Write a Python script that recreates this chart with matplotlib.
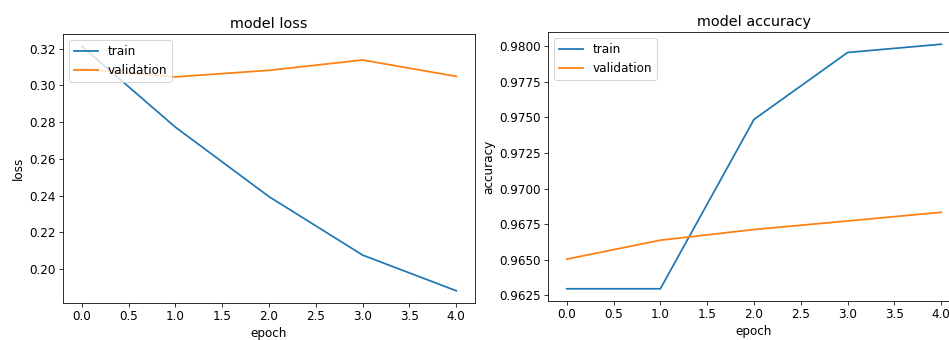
import matplotlib
matplotlib.use('Agg')
import matplotlib.pyplot as plt

epochs = [0, 1, 2, 3, 4]
train_loss = [0.3213, 0.2773, 0.2395, 0.2077, 0.1883]
val_loss = [0.3091, 0.3046, 0.3082, 0.3138, 0.3049]
train_acc = [0.96297, 0.96297, 0.97486, 0.97956, 0.98014]
val_acc = [0.96505, 0.96638, 0.96713, 0.96773, 0.96834]

# the screenshot looks ~1.2x a normal 72 dpi notebook render
plt.rcParams['font.size'] = 12
plt.rcParams['lines.linewidth'] = 1.75
plt.rcParams['xtick.major.size'] = 4
plt.rcParams['ytick.major.size'] = 4

fig = plt.figure(figsize=(949 / 72, 340 / 72), dpi=72)

# loss
ax1 = fig.add_axes([63 / 949, 1 - 303 / 340, (475 - 63) / 949, (303 - 34) / 340])
ax1.plot(epochs, train_loss)
ax1.plot(epochs, val_loss)
ax1.set_title('model loss')
ax1.set_ylabel('loss')
ax1.set_xlabel('epoch')
ax1.legend(['train', 'validation'], loc='upper left')

# accuracy
ax2 = fig.add_axes([548 / 949, 1 - 301 / 340, (960 - 548) / 949, (301 - 32) / 340])
ax2.plot(epochs, train_acc)
ax2.plot(epochs, val_acc)
ax2.set_title('model accuracy')
ax2.set_ylabel('accuracy')
ax2.set_xlabel('epoch')
ax2.legend(['train', 'validation'], loc='upper left')

fig.savefig('out.png', dpi=72)
